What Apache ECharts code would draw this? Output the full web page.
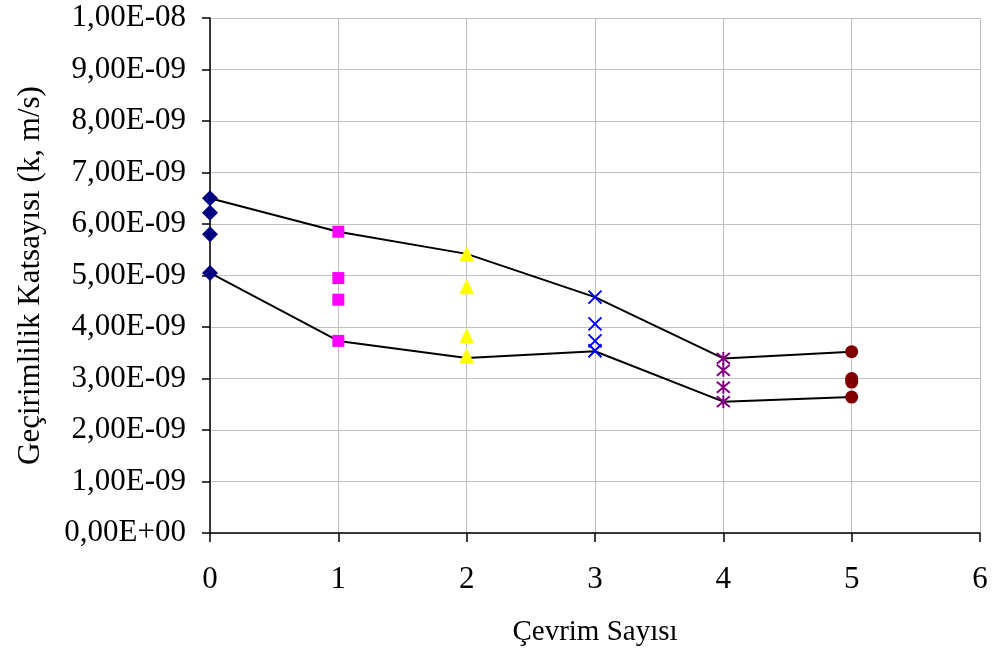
<!DOCTYPE html>
<html>
<head>
<meta charset="utf-8">
<script src="https://cdn.jsdelivr.net/npm/echarts@6/dist/echarts.min.js"></script>
<style>
  html, body { margin: 0; padding: 0; background: #ffffff; }
  #chart { width: 995px; height: 666px; }
</style>
</head>
<body>
<div id="chart"></div>
<script>
// Permeability coefficients, in units of 1e-9 m/s, per freeze-thaw cycle count
const cycles = [0, 1, 2, 3, 4, 5];
const cycle0 = [6.50, 6.22, 5.80, 5.05];
const cycle1 = [5.85, 4.95, 4.53, 3.73];
const cycle2 = [5.42, 4.78, 3.83, 3.44];
const cycle3 = [4.58, 4.06, 3.73, 3.54];
const cycle4 = [3.39, 3.16, 2.83, 2.55];
const cycle5 = [3.52, 3.00, 2.93, 2.64];
// Envelope lines through the highest and lowest result of each cycle
const upperLine = [6.50, 5.85, 5.42, 4.58, 3.39, 3.52];
const lowerLine = [5.05, 3.73, 3.40, 3.53, 2.55, 2.64];
const yTicks = [0, 1, 2, 3, 4, 5, 6, 7, 8, 9, 10];

const FONT = '"Liberation Serif", "Times New Roman", serif';

function fmtTick(v) {
  const real = v * 1e-9;
  if (Math.abs(v) < 1e-12) return '0,00E+00';
  let exp = Math.floor(Math.log10(real) + 1e-9);
  let mant = real / Math.pow(10, exp);
  const sign = exp < 0 ? '-' : '+';
  const e = Math.abs(exp);
  return mant.toFixed(2).replace('.', ',') + 'E' + sign + (e < 10 ? '0' + e : e);
}

const groups = [
  { data: cycle0, x: cycles[0], symbol: 'diamond', size: 16, color: '#000080', stroke: false },
  { data: cycle1, x: cycles[1], symbol: 'rect', size: 12, color: '#ff00ff', stroke: false },
  { data: cycle2, x: cycles[2], symbol: 'triangle', size: 15, color: '#ffff00', stroke: false },
  { data: cycle3, x: cycles[3], symbol: 'path://M0,0L10,10M10,0L0,10', size: 13, color: '#0000ff', stroke: true },
  { data: cycle4, x: cycles[4], symbol: 'path://M0,0L10,10M10,0L0,10M5,-1L5,11', size: 13, color: '#800080', stroke: true },
  { data: cycle5, x: cycles[5], symbol: 'circle', size: 13, color: '#800000', stroke: false }
];

const series = [
  {
    type: 'line', data: cycles.map((c, i) => [c, upperLine[i]]),
    showSymbol: false, symbol: 'none', silent: true, z: 1,
    lineStyle: { color: '#000000', width: 2 }
  },
  {
    type: 'line', data: cycles.map((c, i) => [c, lowerLine[i]]),
    showSymbol: false, symbol: 'none', silent: true, z: 1,
    lineStyle: { color: '#000000', width: 2 }
  }
];
groups.forEach(g => {
  series.push({
    type: 'scatter',
    data: g.data.map(v => [g.x, v]),
    symbol: g.symbol,
    symbolSize: g.size,
    z: 3,
    itemStyle: g.stroke
      ? { color: 'none', borderColor: g.color, borderWidth: 2, opacity: 1 }
      : { color: g.color, borderWidth: 0, opacity: 1 }
  });
});

const chart = echarts.init(document.getElementById('chart'), null, { renderer: 'canvas' });
chart.setOption({
  animation: false,
  backgroundColor: '#ffffff',
  grid: { left: 210, right: 15, top: 18, bottom: 133, containLabel: false },
  xAxis: {
    type: 'value', min: 0, max: 6, interval: 1,
    name: 'Çevrim Sayısı', nameLocation: 'middle', nameGap: 85,
    nameTextStyle: { fontFamily: FONT, fontSize: 29, color: '#000' },
    axisLine: { lineStyle: { color: '#000', width: 1.5 } },
    axisTick: { show: true, length: 9, lineStyle: { color: '#000', width: 1.5 } },
    axisLabel: { fontFamily: FONT, fontSize: 31, color: '#000', margin: 31 },
    splitLine: { show: true, lineStyle: { color: '#c0c0c0', width: 1 } }
  },
  yAxis: {
    type: 'value', min: yTicks[0], max: yTicks[yTicks.length - 1], interval: 1,
    name: 'Geçirimlilik Katsayısı (k, m/s)', nameLocation: 'middle', nameGap: 164,
    nameTextStyle: { fontFamily: FONT, fontSize: 31, color: '#000' },
    axisLine: { show: true, lineStyle: { color: '#000', width: 1.5 } },
    axisTick: { show: true, length: 8, lineStyle: { color: '#000', width: 1.5 } },
    axisLabel: { fontFamily: FONT, fontSize: 31, color: '#000', margin: 24, formatter: fmtTick },
    splitLine: { show: true, lineStyle: { color: '#c0c0c0', width: 1 } }
  },
  series: series
});
</script>
</body>
</html>
